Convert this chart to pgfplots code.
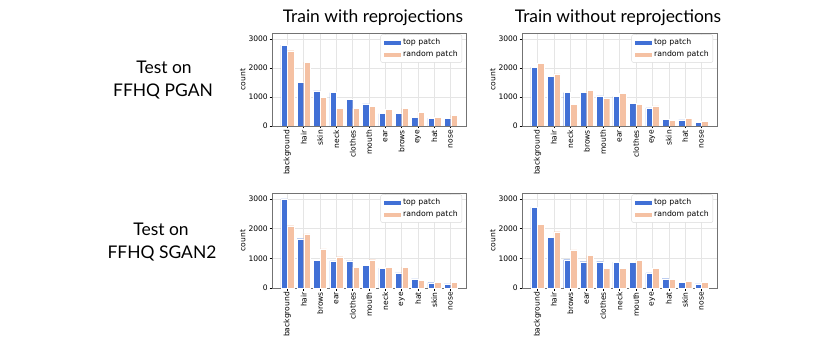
\documentclass[border=0pt]{standalone}
\usepackage{pgfplots}
\pgfplotsset{compat=1.18}
\usepackage{pgfplotstable}
\usepackage{fontspec}
\setmainfont{DejaVu Sans}
\newfontfamily\titlefont{Lato}
\newcommand{\ticksfont}{\fontsize{7.6}{8.5}\selectfont}
\newcommand{\legfont}{\fontsize{7.8}{8.5}\selectfont}
\newcommand{\bigfont}{\titlefont\fontsize{17.5}{20}\selectfont}
\definecolor{topc}{HTML}{4170D6}
\definecolor{randc}{HTML}{F5C1A3}

\pgfplotstableread{
x top random
0 2780 2590
1 1510 2200
2 1210 980
3 1150 610
4 910 610
5 760 670
6 430 575
7 430 610
8 295 475
9 270 290
10 260 370
}\dataA
\pgfplotstableread{
x top random
0 2025 2160
1 1700 1790
2 1150 735
3 1150 1220
4 1040 960
5 1020 1120
6 770 745
7 620 690
8 240 205
9 215 270
10 125 170
}\dataB
\pgfplotstableread{
x top random
0 3000 2100
1 1660 1820
2 940 1320
3 910 1055
4 910 705
5 760 955
6 670 695
7 510 705
8 305 260
9 180 195
10 135 195
}\dataC
\pgfplotstableread{
x top random
0 2715 2145
1 1705 1895
2 955 1285
3 885 1100
4 885 670
5 875 670
6 875 940
7 510 660
8 315 295
9 195 215
10 135 195
}\dataD

\pgfplotsset{
  myaxis/.style={
    scale only axis, width=194bp, height=94bp,
    anchor=south west,
    ymin=0, ymax=3200, xmin=-0.94, xmax=10.94,
    ytick={0,1000,2000,3000},
    xtick={0,...,10},
    x tick label style={rotate=90, anchor=east, font=\ticksfont, inner sep=1.5bp},
    y tick label style={font=\ticksfont, inner sep=1.5bp},
    ylabel={count}, ylabel style={font=\ticksfont, yshift=-2bp},
    grid=major, grid style={black!10, line width=0.4bp},
    axis line style={black!55, line width=0.8bp},
    tick style={black, line width=0.4bp}, tick align=outside, major tick length=2.5bp,
    xtick pos=bottom, ytick pos=left,
    /pgf/number format/assume math mode=true,
    /pgf/number format/set thousands separator={},
    bar width=0.4,
    legend cell align=left,
    legend style={at={(0.98,0.985)}, anchor=north east, font=\legfont,
      draw=black!15, rounded corners=2bp, fill=white, inner sep=2.2bp,
      row sep=0.8bp},
    legend image code/.code={\fill[##1, sharp corners] (0bp,-2.8bp) rectangle (18bp,2.8bp);},
  },
  topbar/.style={ybar, bar shift=-0.2, fill=topc, draw=white, line width=0.3bp},
  randbar/.style={ybar, bar shift=0.2, fill=randc, draw=white, line width=0.3bp},
}

\begin{document}
\begin{tikzpicture}[x=1bp,y=1bp]
\useasboundingbox (0,0) rectangle (830,346);

\node[font=\bigfont, anchor=base] at (373,324) {Train with reprojections};
\node[font=\bigfont, anchor=base] at (618,324) {Train without reprojections};
\node[font=\bigfont, anchor=base] at (164,273) {Test on};
\node[font=\bigfont, anchor=base] at (163,250) {FFHQ PGAN};
\node[font=\bigfont, anchor=base] at (161,111) {Test on};
\node[font=\bigfont, anchor=base] at (162,88) {FFHQ SGAN2};

\begin{axis}[myaxis, at={(272bp,220bp)}, height=93bp,
  xticklabels={background,hair,skin,neck,clothes,mouth,ear,brows,eye,hat,nose}]
\addplot[topbar] table[x=x,y=top]{\dataA};
\addlegendentry{top patch}
\addplot[randbar] table[x=x,y=random]{\dataA};
\addlegendentry{random patch}
\end{axis}

\begin{axis}[myaxis, at={(522bp,220bp)}, height=93bp, width=195bp,
  xticklabels={background,hair,neck,brows,mouth,ear,clothes,eye,skin,hat,nose}]
\addplot[topbar] table[x=x,y=top]{\dataB};
\addlegendentry{top patch}
\addplot[randbar] table[x=x,y=random]{\dataB};
\addlegendentry{random patch}
\end{axis}

\begin{axis}[myaxis, at={(272bp,58bp)}, height=95bp,
  xticklabels={background,hair,brows,ear,clothes,mouth,neck,eye,hat,skin,nose}]
\addplot[topbar] table[x=x,y=top]{\dataC};
\addlegendentry{top patch}
\addplot[randbar] table[x=x,y=random]{\dataC};
\addlegendentry{random patch}
\end{axis}

\begin{axis}[myaxis, at={(522bp,58bp)}, height=95bp, width=195bp,
  xticklabels={background,hair,brows,ear,clothes,neck,mouth,eye,hat,skin,nose}]
\addplot[topbar] table[x=x,y=top]{\dataD};
\addlegendentry{top patch}
\addplot[randbar] table[x=x,y=random]{\dataD};
\addlegendentry{random patch}
\end{axis}
\end{tikzpicture}
\end{document}
